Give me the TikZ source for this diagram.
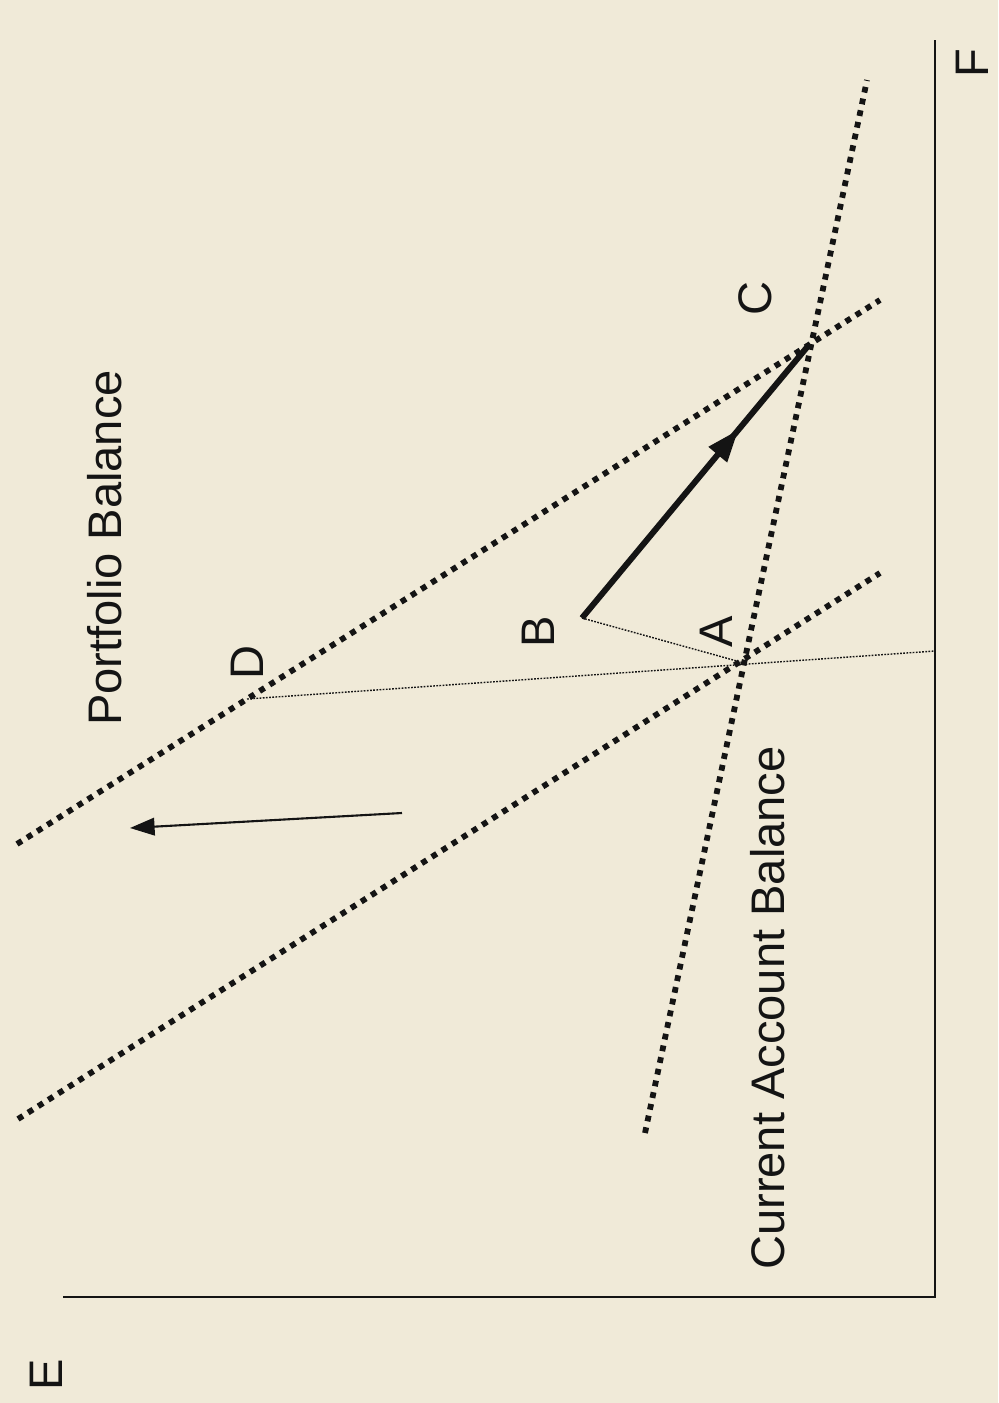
\documentclass[tikz,border=0pt]{standalone}
\usepackage{fontspec}
\setmainfont{Liberation Sans}
\usetikzlibrary{arrows.meta,decorations.markings}
\definecolor{bg}{RGB}{240,234,216}
\definecolor{ink}{RGB}{20,20,20}
\begin{document}
\begin{tikzpicture}[x=0.02cm,y=-0.02cm,
  thickdot/.style={ink,line width=3.3pt,line cap=butt,dash pattern=on 3.3pt off 3.5pt},
  thindot/.style={ink,line width=0.8pt,dash pattern=on 1pt off 0.8pt},
  axis/.style={ink,line width=1.2pt},
  lbl/.style={rotate=90,inner sep=0pt,text=ink,font=\fontsize{26.8}{30}\selectfont},
  move/.style={ink,line width=3.4pt,
    postaction={decorate},
    decoration={markings,mark=at position 0.69 with {\arrow[ink]{Triangle[length=18pt,width=14pt,line width=0pt]}}}},
  shiftarrow/.style={ink,line width=1.2pt,-{Triangle[length=14pt,width=10pt]}}]
\fill[bg] (0,0) rectangle (998,1403);
\useasboundingbox (0,0) rectangle (998,1403);
% key points
\coordinate (A) at (744,663);
\coordinate (B) at (582,618);
\coordinate (C) at (808,346);
\coordinate (D) at (247,699);
\coordinate (O) at (935,1297);
\coordinate (Ftop) at (935,40);
\coordinate (Eend) at (63,1297);
\coordinate (Fcut) at (935,651);
\coordinate (CA1) at (645,1133);
\coordinate (CA2) at (867,80);
\coordinate (P1a) at (18,1119);
\coordinate (P1b) at (880,573);
\coordinate (P2a) at (17,844);
\coordinate (P2b) at (880,300);
\coordinate (S1) at (402,813);
\coordinate (S2) at (130,828);
% axes
\draw[axis] (Ftop) -- (O) -- (Eend);
% schedules
\draw[thickdot] (CA1) -- (CA2);
\draw[thickdot] (P1a) -- (P1b);
\draw[thickdot] (P2a) -- (P2b);
% thin dotted guides
\draw[thindot] (D) -- (Fcut);
\draw[thindot] (B) -- (A);
% arrows
\draw[move] (B) -- (C);
\draw[shiftarrow] (S1) -- (S2);
% labels
\node[lbl] (lPB) at (105,548) {Portfolio Balance};
\node[lbl] (lCA) at (768,1008) {Current Account Balance};
\node[lbl] (lD) at (247,662) {D};
\node[lbl] (lB) at (538,632) {B};
\node[lbl] (lA) at (716,632) {A};
\node[lbl] (lC) at (755,298) {C};
\node[lbl] (lE) at (46,1375) {E};
\node[lbl] (lF) at (972,63) {F};
\end{tikzpicture}
\end{document}
